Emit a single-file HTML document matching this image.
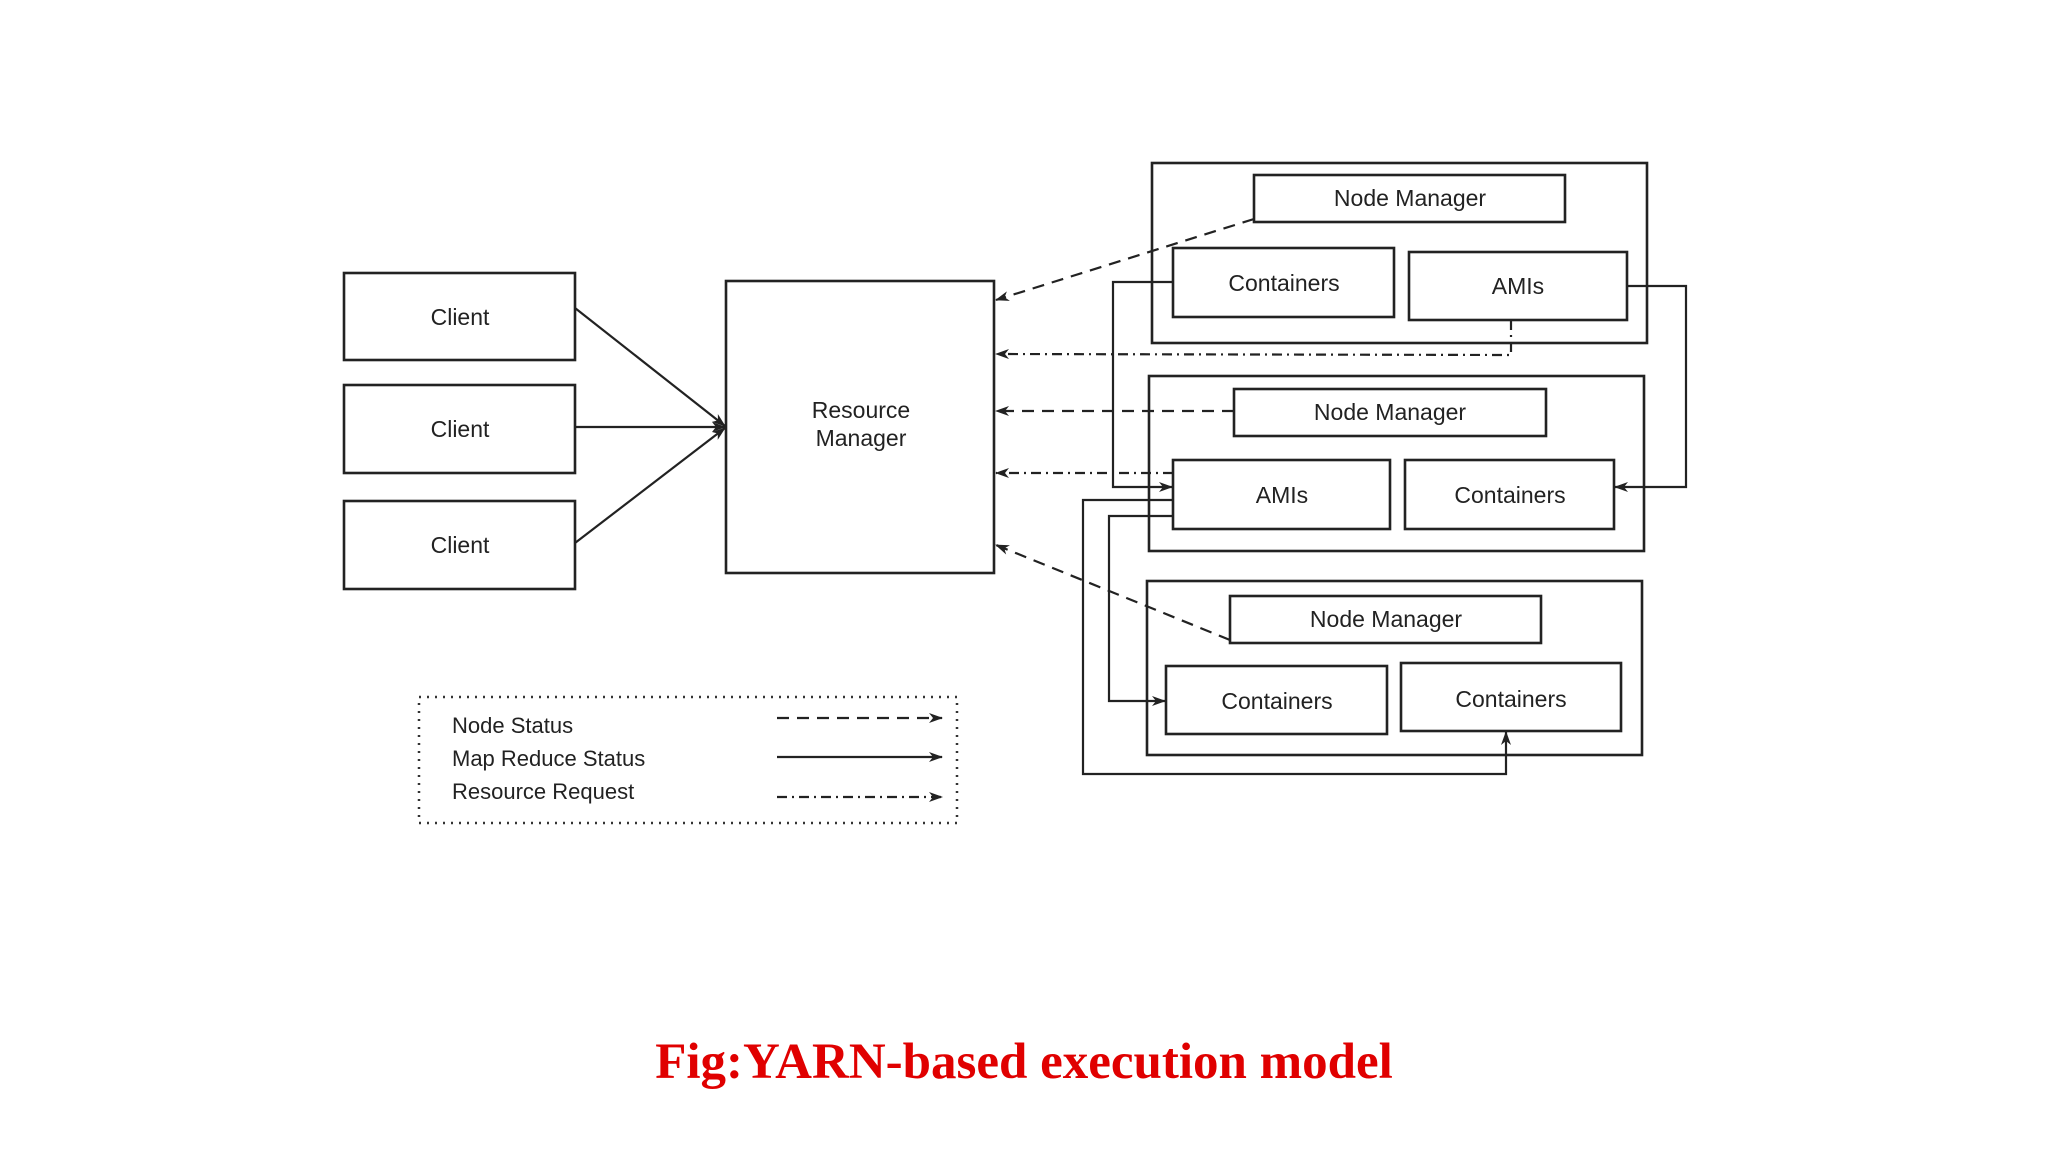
<!DOCTYPE html>
<html><head><meta charset="utf-8"><style>
html,body{margin:0;padding:0;background:#fff;}
svg{display:block}
text{font-family:"Liberation Sans",sans-serif;fill:#222;}
</style></head><body>
<svg width="2048" height="1152" viewBox="0 0 2048 1152" xmlns="http://www.w3.org/2000/svg">
<defs>
<marker id="a" markerWidth="14" markerHeight="10" refX="13" refY="5" orient="auto" markerUnits="userSpaceOnUse">
<path d="M0,0 L14,5 L0,10 L4,5 z" fill="#222"/></marker>
</defs>
<g fill="none" stroke="#222" stroke-width="2.6">
<rect x="344" y="273" width="231" height="87"/>
<rect x="344" y="385" width="231" height="88"/>
<rect x="344" y="501" width="231" height="88"/>
<rect x="726" y="281" width="268" height="292"/>
<rect x="1152" y="163" width="495" height="180"/>
<rect x="1254" y="175" width="311" height="47"/>
<rect x="1173" y="248" width="221" height="69"/>
<rect x="1409" y="252" width="218" height="68"/>
<rect x="1149" y="376" width="495" height="175"/>
<rect x="1234" y="389" width="312" height="47"/>
<rect x="1173" y="460" width="217" height="69"/>
<rect x="1405" y="460" width="209" height="69"/>
<rect x="1147" y="581" width="495" height="174"/>
<rect x="1230" y="596" width="311" height="47"/>
<rect x="1166" y="666" width="221" height="68"/>
<rect x="1401" y="663" width="220" height="68"/>
</g>
<g fill="none" stroke="#222" stroke-width="2.2" marker-end="url(#a)">
<line x1="575" y1="308" x2="725" y2="426"/>
<line x1="575" y1="427" x2="725" y2="427"/>
<line x1="575" y1="543" x2="725" y2="428"/>
<polyline points="1173,282 1113,282 1113,487 1172,487"/>
<polyline points="1627,286 1686,286 1686,487 1615,487"/>
<polyline points="1173,516 1109,516 1109,701 1165,701"/>
<polyline points="1173,500 1083,500 1083,774 1506,774 1506,732"/>
<g stroke-dasharray="12,8">
<line x1="1254" y1="219" x2="996" y2="300"/>
<line x1="1234" y1="411" x2="996" y2="411"/>
<line x1="1230" y1="640" x2="996" y2="545"/>
</g>
<g stroke-dasharray="10,5,2,5">
<polyline points="1511,320 1511,355 996,354"/>
<line x1="1173" y1="473" x2="996" y2="473"/>
</g>
<line x1="777" y1="718" x2="942" y2="718" stroke-dasharray="12,8"/>
<line x1="777" y1="757" x2="942" y2="757"/>
<line x1="777" y1="797" x2="942" y2="797" stroke-dasharray="10,5,2,5"/>
</g>
<rect x="419" y="697" width="538" height="126" fill="none" stroke="#333" stroke-width="2.5" stroke-dasharray="2,6"/>
<g font-size="23" text-anchor="middle">
<text x="460" y="325">Client</text>
<text x="460" y="437">Client</text>
<text x="460" y="553">Client</text>
<text x="861" y="418">Resource</text>
<text x="861" y="446">Manager</text>
<text x="1410" y="206">Node Manager</text>
<text x="1284" y="291">Containers</text>
<text x="1518" y="294">AMIs</text>
<text x="1390" y="420">Node Manager</text>
<text x="1282" y="503">AMIs</text>
<text x="1510" y="503">Containers</text>
<text x="1386" y="627">Node Manager</text>
<text x="1277" y="709">Containers</text>
<text x="1511" y="707">Containers</text>
</g>
<g font-size="22">
<text x="452" y="733">Node Status</text>
<text x="452" y="766">Map Reduce Status</text>
<text x="452" y="799">Resource Request</text>
</g>
<text x="1024" y="1078" text-anchor="middle" style="font-family:'Liberation Serif',serif;font-weight:bold;font-size:51px;fill:#e00000">Fig:YARN-based execution model</text>
</svg>
</body></html>
